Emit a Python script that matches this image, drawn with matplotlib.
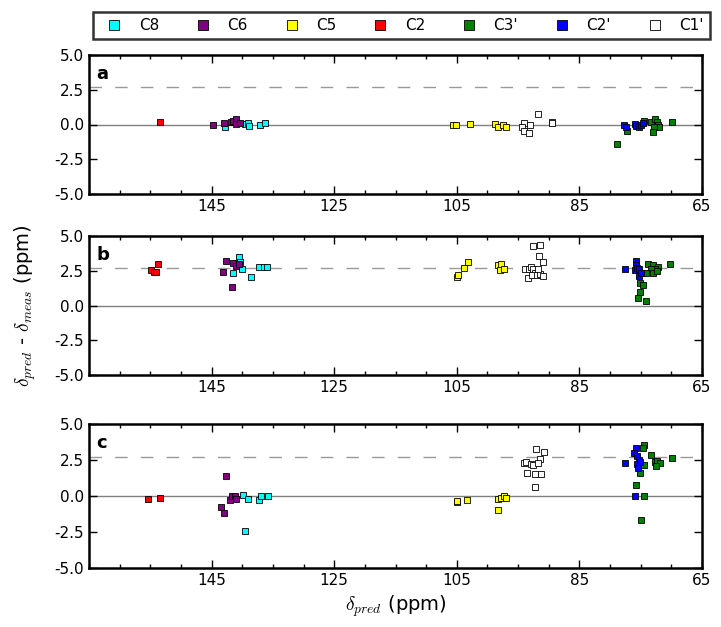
import numpy as np
import matplotlib
matplotlib.use('Agg')
from matplotlib import pyplot as plt
from matplotlib.ticker import MultipleLocator

plt.rcParams['mathtext.fontset'] = 'cm'
plt.rcParams['font.family'] = 'DejaVu Sans'

names = ['C8', 'C6', 'C5', 'C2', "C3'", "C2'", "C1'"]
colors = ['cyan', 'purple', 'yellow', 'red', 'green', 'blue', 'white']

# panel a: (ppm, diff) per atom type
a_C8 = [(142.8, -0.2), (139.6, 0.06), (139.0, 0.08), (138.9, -0.13), (137.1, -0.01), (136.3, 0.13)]
a_C6 = [(144.7, 0.0), (143.0, 0.08), (141.9, 0.15), (141.5, 0.27), (141.1, 0.37), (141.0, 0.03), (140.4, 0.08)]
a_C5 = [(105.6, 0.0), (105.2, 0.0), (102.8, 0.04), (98.7, 0.04), (98.3, -0.18), (97.4, 0.0), (97.0, -0.18)]
a_C2 = [(153.4, 0.2)]
a_C3p = [(78.9, -1.4), (77.3, -0.44), (74.5, 0.23), (73.4, 0.18), (72.7, 0.42), (72.4, 0.16),
         (72.1, 0.0), (72.0, -0.2), (72.8, -0.2), (73.0, -0.54), (69.9, 0.18)]
a_C2p = [(77.7, -0.06), (77.4, -0.2), (76.0, 0.04), (75.7, -0.1), (75.3, -0.16), (75.0, -0.01), (74.7, 0.08)]
a_C1p = [(94.0, 0.13), (94.3, -0.16), (94.0, -0.47), (93.3, -0.59), (93.0, 0.0), (91.8, 0.78),
         (89.5, 0.16), (89.4, 0.08)]

# panel b
b_C8 = [(140.6, 3.47), (140.4, 3.14), (140.0, 2.66), (141.5, 2.35), (138.6, 2.06), (137.2, 2.76),
        (136.4, 2.76), (136.0, 2.76)]
b_C6 = [(142.7, 3.2), (143.1, 2.4), (141.7, 1.34), (141.5, 3.07), (141.0, 2.83), (140.6, 2.95)]
b_C5 = [(104.9, 2.04), (104.8, 2.23), (103.8, 2.73), (103.2, 3.14), (98.2, 2.9), (97.8, 3.02),
        (97.9, 2.52), (97.3, 2.61)]
b_C2 = [(154.9, 2.54), (154.4, 2.4), (154.0, 2.4), (153.7, 2.95)]
b_C3p = [(73.8, 3.0), (73.0, 2.88), (72.1, 2.76), (72.7, 2.64), (73.4, 2.59), (73.0, 2.35), (72.3, 2.47),
         (74.1, 2.35), (75.1, 1.63), (74.7, 1.51), (75.1, 0.96), (75.4, 0.53), (74.2, 0.34), (70.2, 3.0)]
b_C2p = [(77.5, 2.59), (75.8, 3.19), (75.7, 2.9), (75.9, 2.52), (75.6, 2.68), (75.2, 2.59),
         (75.3, 2.11), (75.0, 2.35)]
b_C1p = [(92.5, 4.29), (91.5, 4.32), (91.6, 3.58), (90.9, 3.12), (93.9, 2.59), (93.3, 2.64), (92.9, 2.78),
         (92.5, 2.59), (92.3, 2.35), (93.4, 1.96), (92.8, 2.16), (91.9, 2.16), (91.5, 2.28), (91.0, 2.11),
         (91.7, 2.59)]

# panel c
c_C8 = [(139.9, 0.05), (139.1, -0.19), (139.6, -2.4), (137.3, -0.29), (136.9, -0.03), (135.8, -0.03)]
c_C6 = [(142.7, 1.41), (143.4, -0.79), (142.9, -1.2), (142.0, -0.31), (141.7, 0.0), (141.2, 0.0), (141.1, -0.24)]
c_C5 = [(105.0, -0.39), (105.0, -0.32), (103.3, -0.29), (98.2, -0.24), (98.2, -0.96), (97.8, -0.17),
        (97.3, 0.0), (97.0, -0.17)]
c_C2 = [(155.3, -0.22), (153.4, -0.14)]
c_C3p = [(74.5, 3.55), (74.6, 3.31), (73.3, 2.88), (74.4, 2.12), (75.1, 1.6), (75.7, 0.79), (74.4, 0.0),
         (74.9, -1.68), (72.7, 2.34), (72.3, 2.46), (71.8, 2.27), (72.5, 2.07), (69.9, 2.63)]
c_C2p = [(77.5, 2.32), (75.7, 3.35), (76.1, 2.97), (75.6, 2.78), (75.2, 2.49), (75.6, 2.25), (75.5, 1.91),
         (75.9, 0.0), (75.1, 2.35)]
c_C1p = [(92.0, 3.26), (90.7, 3.07), (91.4, 2.57), (94.0, 2.29), (93.7, 2.34), (92.9, 2.22), (92.6, 2.12),
         (91.7, 2.27), (93.6, 1.63), (92.3, 1.5), (91.2, 1.53), (92.3, 0.6)]

panels = [
    ('a', [a_C8, a_C6, a_C5, a_C2, a_C3p, a_C2p, a_C1p]),
    ('b', [b_C8, b_C6, b_C5, b_C2, b_C3p, b_C2p, b_C1p]),
    ('c', [c_C8, c_C6, c_C5, c_C2, c_C3p, c_C2p, c_C1p]),
]
ref_offset = 2.7

W, H = 721.0, 627.0
fig = plt.figure(figsize=(7.21, 6.27), dpi=100)
boxes = [(89, 55, 613, 139), (89, 236, 613, 139), (89, 424, 613, 144)]

axes = []
for (lab, groups), (x0, y0, w, h) in zip(panels, boxes):
    ax = fig.add_axes([x0 / W, 1 - (y0 + h) / H, w / W, h / H])
    ax.axhline(0, color='gray', lw=1, zorder=1)
    ax.axhline(ref_offset, color='#999999', lw=1, ls=(0, (9, 9.5)), zorder=1)
    for pts, name, col in zip(groups, names, colors):
        pts = np.array(pts)
        ax.plot(pts[:, 0], pts[:, 1], 's', color=col, mec='black', mew=0.6, ms=4.5,
                label=name, zorder=3)
    ax.set_xlim(165, 65)
    ax.set_ylim(-5, 5)
    ax.set_xticks([145, 125, 105, 85, 65])
    ax.xaxis.set_minor_locator(MultipleLocator(5))
    ax.set_yticks([-5, -2.5, 0, 2.5, 5])
    ax.yaxis.set_major_formatter(matplotlib.ticker.FormatStrFormatter('%.1f'))
    ax.tick_params(which='both', direction='in', top=True, right=True, labelsize=11)
    ax.tick_params(which='major', length=6, width=1)
    ax.tick_params(which='minor', length=3, width=1)
    for s in ax.spines.values():
        s.set_linewidth(1.8)
    ax.text(0.012, 0.93, lab, transform=ax.transAxes, fontsize=13, fontweight='bold',
            va='top', ha='left')
    axes.append(ax)

axes[1].set_ylabel(r'$\delta_{pred}$ - $\delta_{meas}$ (ppm)', fontsize=14, labelpad=12)
axes[2].set_xlabel(r'$\delta_{pred}$ (ppm)', fontsize=14)

handles, labels = axes[0].get_legend_handles_labels()
leg = fig.legend(handles, labels, loc='lower left', ncol=7, mode='expand',
                 bbox_to_anchor=(93 / W, 1 - 39 / H, 617 / W, 34 / H),
                 fontsize=11, frameon=True, fancybox=False, borderaxespad=0,
                 handletextpad=0.6, markerscale=1.55, numpoints=1)
leg.get_frame().set_edgecolor('black')
leg.get_frame().set_linewidth(1.8)

fig.savefig('out.png', dpi=100)
